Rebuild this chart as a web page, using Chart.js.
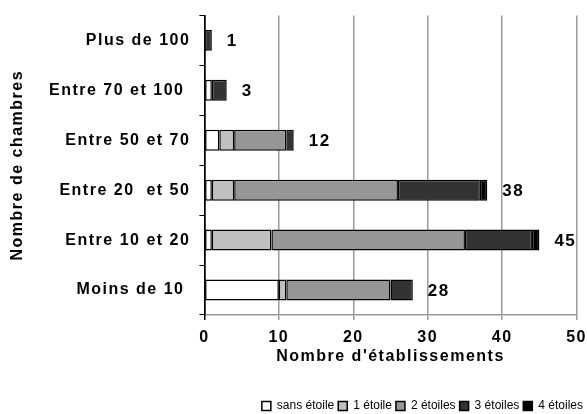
<!DOCTYPE html>
<html>
<head>
<meta charset="utf-8">
<script src="https://cdn.jsdelivr.net/npm/chart.js@4.4.1/dist/chart.umd.min.js"></script>
<style>
  html, body { margin: 0; padding: 0; background: #fff; }
  #wrap { width: 587px; height: 414px; }
</style>
</head>
<body>
<div id="wrap"><canvas id="hotelChart"></canvas></div>
<script>
  // categories (top to bottom) and series
  const categories = ['Plus de 100', 'Entre 70 et 100 ', 'Entre 50 et 70', 'Entre 20  et 50', 'Entre 10 et 20', 'Moins de 10 '];
  const seriesNames = ['sans étoile', '1 étoile', '2 étoiles', '3 étoiles', '4 étoiles'];
  const sansEtoile = [0, 1, 2, 1, 1, 10];
  const uneEtoile = [0, 0, 2, 3, 8, 1];
  const deuxEtoiles = [0, 0, 7, 22, 26, 14];
  const troisEtoiles = [1, 2, 1, 11, 9, 3];
  const quatreEtoiles = [0, 0, 0, 1, 1, 0];
  const xTicks = [0, 10, 20, 30, 40, 50];

  const seriesValues = [sansEtoile, uneEtoile, deuxEtoiles, troisEtoiles, quatreEtoiles];
  const colors = ['#ffffff', '#c0c0c0', '#969696', '#333333', '#000000'];
  const FONT = "'Liberation Sans', Arial, sans-serif";
  const SPACING = '1.5px';

  const totals = categories.map((c, i) => seriesValues.reduce((s, arr) => s + arr[i], 0));

  Chart.defaults.color = '#000';
  Chart.defaults.font.family = FONT;

  // the original text is drawn with wide letter spacing, except the legend
  const spacingPlugin = {
    id: 'spacing',
    beforeLayout(chart) {
      chart.ctx.letterSpacing = SPACING;
      const lg = chart.legend;
      if (lg && !lg._plain) {
        lg._plain = true;
        const fit = lg.fit, draw = lg.draw;
        lg.fit = function () { this.ctx.letterSpacing = '0px'; fit.call(this); this.ctx.letterSpacing = SPACING; };
        lg.draw = function () { this.ctx.letterSpacing = '0px'; draw.apply(this, arguments); this.ctx.letterSpacing = SPACING; };
      }
    },
    beforeDraw(chart) {
      chart.ctx.letterSpacing = SPACING;
    },
    afterDatasetsDraw(chart) {
      const ctx = chart.ctx;
      const xs = chart.scales.x, ys = chart.scales.y;
      ctx.save();
      ctx.font = 'bold 17px ' + FONT;
      ctx.fillStyle = '#000';
      ctx.textBaseline = 'middle';
      ctx.textAlign = 'left';
      totals.forEach((t, i) => {
        ctx.fillText(String(t), xs.getPixelForValue(t) + 15, ys.getPixelForValue(i) + 1);
      });
      ctx.restore();
    }
  };

  const datasets = seriesNames.map((name, k) => ({
    label: name,
    data: seriesValues[k].map(v => v === 0 ? null : v),
    backgroundColor: colors[k],
    borderColor: '#000',
    borderWidth: 1.5,
    borderSkipped: false,
    barPercentage: 0.42,
    categoryPercentage: 1
  }));

  const ctx = document.getElementById('hotelChart').getContext('2d');
  const hotelChart = new Chart(ctx, {
    type: 'bar',
    data: { labels: categories, datasets: datasets },
    options: {
      indexAxis: 'y',
      responsive: true,
      maintainAspectRatio: false,
      animation: false,
      layout: { padding: { top: 7, left: 10, right: 0, bottom: -8 } },
      plugins: {
        legend: {
          position: 'bottom',
          align: 'end',
          labels: {
            boxWidth: 9,
            boxHeight: 9,
            padding: 4,
            font: { size: 12 },
            color: '#000'
          }
        },
        tooltip: { enabled: false }
      },
      scales: {
        x: {
          stacked: true,
          min: 0,
          max: 50,
          afterBuildTicks: (scale) => { scale.ticks = xTicks.map(v => ({ value: v })); },
          grid: {
            color: (c) => (c.tick && c.tick.value === 0) ? '#000' : '#999',
            lineWidth: 1.5,
            tickLength: 5
          },
          border: { color: '#999', width: 1.5 },
          ticks: { font: { size: 16, weight: 'bold', lineHeight: 2.25 }, padding: 0 },
          title: {
            display: true,
            text: "Nombre d'établissements",
            font: { size: 16, weight: 'bold', lineHeight: 1 },
            padding: { top: -7, bottom: 31 }
          }
        },
        y: {
          stacked: true,
          grid: { drawOnChartArea: false, color: '#000', tickLength: 5, offset: true },
          border: { color: '#000', width: 1.5 },
          ticks: { font: { size: 16, weight: 'bold', lineHeight: 0.8 }, padding: 9 },
          title: {
            display: true,
            text: 'Nombre de chambres',
            font: { size: 16, weight: 'bold', lineHeight: 1 },
            padding: { top: 0, bottom: 14 }
          }
        }
      }
    },
    plugins: [spacingPlugin]
  });
</script>
</body>
</html>
